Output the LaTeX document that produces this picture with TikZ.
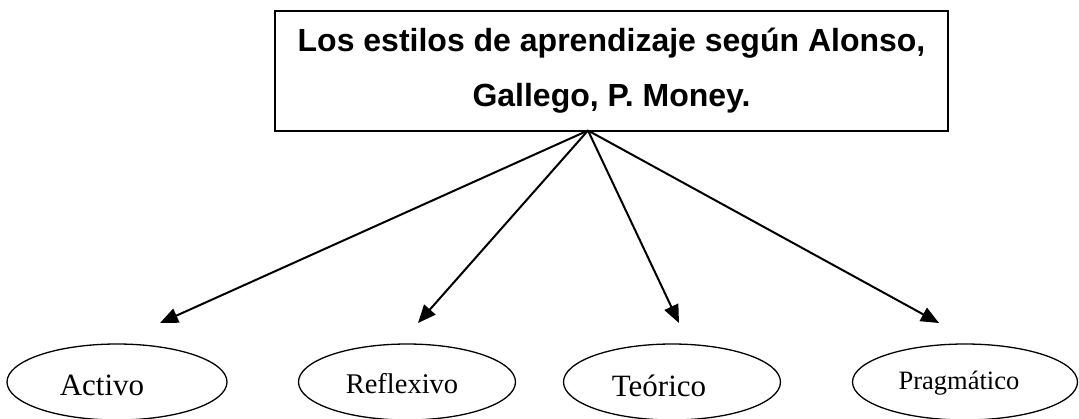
\documentclass[tikz,border=0pt]{standalone}
\usepackage{fontspec}
\setmainfont{Liberation Serif}
\newfontfamily\arialfont{Liberation Sans}
\usetikzlibrary{arrows.meta,shapes.geometric}
\tikzset{
  titlebox/.style={draw, line width=2pt, minimum width=673pt, minimum height=120pt,
    inner sep=0pt, align=center, font=\arialfont\fontsize{32}{55}\selectfont\bfseries},
  oval/.style={draw, ellipse, line width=1.3pt, inner sep=0pt, minimum height=76pt},
  lbl/.style={anchor=base, inner sep=0pt},
  conn/.style={line width=2pt, -{Triangle[length=18pt,width=15pt]}}
}
\begin{document}
\begin{tikzpicture}[x=1pt,y=-1pt]
\useasboundingbox (0,0) rectangle (1079,418);
\node[titlebox] (title) at (611.5,70.5) {Los estilos de aprendizaje según Alonso,\\Gallego, P. Money.};
\coordinate (apex) at (588,130.5);
\node[oval, minimum width=220pt] (act) at (117,382) {};
\node[oval, minimum width=217pt] (ref) at (407,382) {};
\node[oval, minimum width=217pt] (teo) at (672,382) {};
\node[oval, minimum width=225pt] (pra) at (965,382) {};
\node[lbl, font=\fontsize{31}{31}\selectfont] (tact) at (102,395) {Activo};
\node[lbl, font=\fontsize{28.5}{28.5}\selectfont] (tref) at (402,393) {Reflexivo};
\node[lbl, font=\fontsize{31}{31}\selectfont] (tteo) at (659,396) {Teórico};
\node[lbl, font=\fontsize{26.5}{26.5}\selectfont] (tpra) at (959,389) {Pragmático};
\coordinate (tip1) at (160,323);
\coordinate (tip2) at (418,323);
\coordinate (tip3) at (679,323);
\coordinate (tip4) at (939,323);
\draw[conn] (apex) -- (tip1);
\draw[conn] (apex) -- (tip2);
\draw[conn] (apex) -- (tip3);
\draw[conn] (apex) -- (tip4);
\end{tikzpicture}
\end{document}
